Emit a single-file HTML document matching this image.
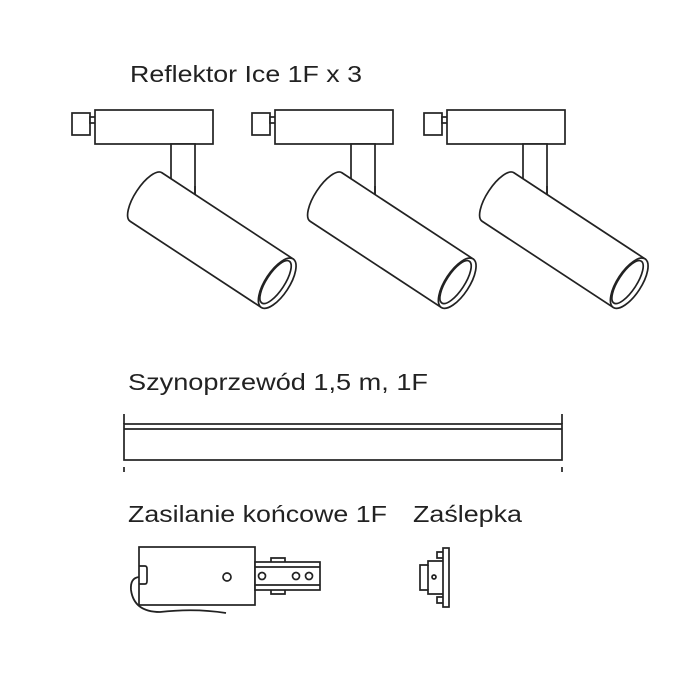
<!DOCTYPE html>
<html><head><meta charset="utf-8"><style>html,body{margin:0;padding:0;background:#fff;}svg{display:block}</style></head>
<body>
<svg width="700" height="700" viewBox="0 0 700 700" xmlns="http://www.w3.org/2000/svg">
<defs>
<g id="spot" fill="#fff" stroke="#222" stroke-width="1.7">
  <rect x="72" y="113" width="18" height="22"/>
  <rect x="90" y="117" width="6" height="6"/>
  <rect x="95" y="110" width="118" height="34"/>
  <rect x="171" y="144" width="24" height="50"/>
  <g transform="translate(146,197) rotate(33.3)">
    <path d="M0,-29 L157,-29 L157,29 L0,29 A11,29 0 0 1 0,-29 Z"/>
    <ellipse cx="157" cy="0" rx="12" ry="29"/>
    <ellipse cx="155" cy="0" rx="9" ry="25"/>
  </g>
  <path d="M195,186 L195,194" fill="none"/>
</g>
</defs>
<g font-family="'Liberation Sans', sans-serif" font-size="23" fill="#222">
<text x="130" y="82" textLength="232" lengthAdjust="spacingAndGlyphs">Reflektor Ice 1F x 3</text>
<text x="128" y="390" textLength="300" lengthAdjust="spacingAndGlyphs">Szynoprzewód 1,5 m, 1F</text>
<text x="128" y="522" textLength="259" lengthAdjust="spacingAndGlyphs">Zasilanie końcowe 1F</text>
<text x="413" y="522" textLength="109" lengthAdjust="spacingAndGlyphs">Zaślepka</text>
</g>
<use href="#spot"/>
<use href="#spot" transform="translate(180,0)"/>
<use href="#spot" transform="translate(352,0)"/>
<g fill="none" stroke="#222" stroke-width="1.7">
  <rect x="124" y="424" width="438" height="36"/>
  <line x1="124" y1="429" x2="562" y2="429"/>
  <line x1="124" y1="414" x2="124" y2="424"/>
  <line x1="562" y1="414" x2="562" y2="424"/>
  <line x1="124" y1="467" x2="124" y2="472"/>
  <line x1="562" y1="467" x2="562" y2="472"/>
  <rect x="139" y="547" width="116" height="58" fill="#fff"/>
  <path d="M139,566 L145,566 Q147,566 147,569 L147,581 Q147,584 145,584 L139,584"/>
  <circle cx="227" cy="577" r="4"/>
  <path d="M139,577 Q130,578 131,590 Q134,612 160,612 Q195,608 226,613" stroke-width="1.8"/>
  <rect x="255" y="562" width="65" height="28" fill="#fff"/>
  <line x1="255" y1="567" x2="320" y2="567"/>
  <line x1="255" y1="585" x2="320" y2="585"/>
  <path d="M271,562 L271,558 L285,558 L285,562"/>
  <path d="M271,590 L271,594 L285,594 L285,590"/>
  <circle cx="262" cy="576" r="3.5"/>
  <circle cx="296" cy="576" r="3.5"/>
  <circle cx="309" cy="576" r="3.5"/>
  <rect x="443" y="548" width="6" height="59"/>
  <path d="M443,552 L437,552 L437,558 L443,558"/>
  <path d="M443,597 L437,597 L437,603 L443,603"/>
  <path d="M443,561 L428,561 L428,565 L420,565 L420,590 L428,590 L428,594 L443,594"/>
  <line x1="428" y1="565" x2="428" y2="590"/>
  <circle cx="434" cy="577" r="2"/>
</g>
</svg>
</body></html>
